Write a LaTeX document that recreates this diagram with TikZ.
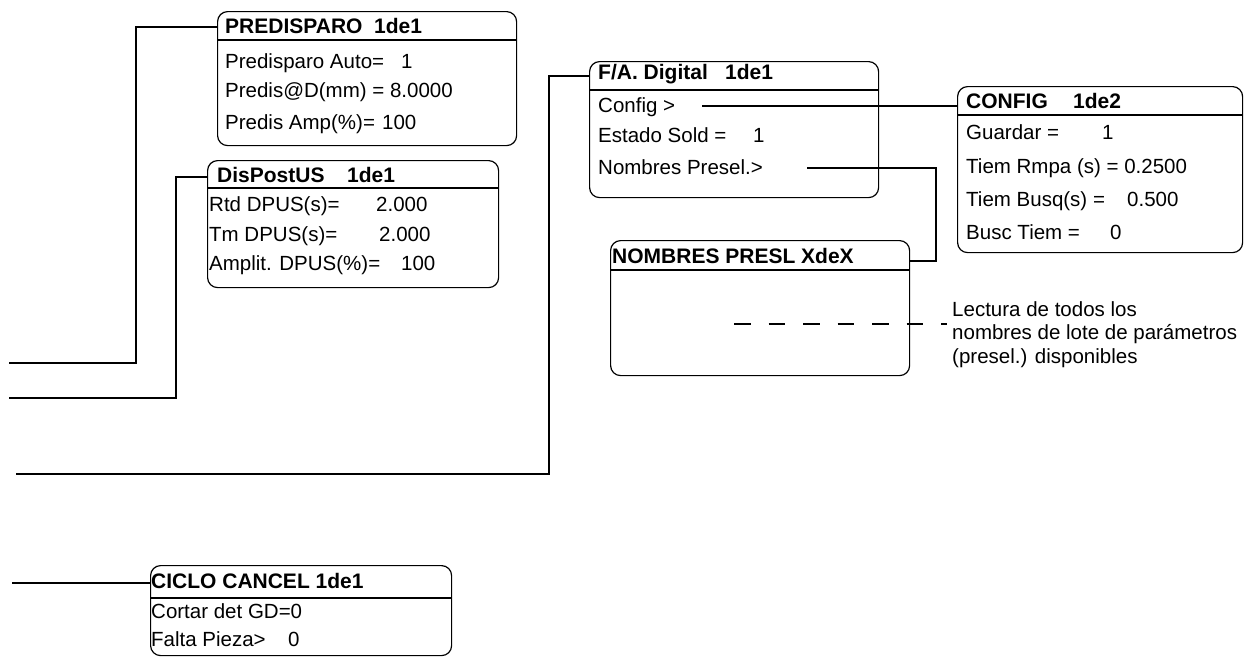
\documentclass[tikz,border=0pt]{standalone}
\usepackage{fontspec}
\setmainfont{Liberation Sans}
\usetikzlibrary{calc}
\newcommand{\rowtxt}[3]{\makebox[#1pt][l]{#2}#3}
\begin{document}
\begin{tikzpicture}[x=1pt,y=-1pt,
  panel/.style={draw, line width=1.2pt, rounded corners=10pt, inner sep=0pt, anchor=north west},
  hdr/.style={line width=2.2pt},
  conn/.style={line width=2.8pt},
  txt/.style={anchor=base west, inner sep=0pt, font=\fontsize{20.5}{23.5}\selectfont},
  ttl/.style={txt, font=\fontsize{21}{24}\selectfont\bfseries},
  note/.style={anchor=base west, inner sep=0pt, align=left, font=\fontsize{20.5}{23.5}\selectfont}]
\useasboundingbox (0,0) rectangle (1244,656);

% ---- PREDISPARO
\node[panel, minimum width=299pt, minimum height=134pt] (pre) at (217,11) {};
\draw[hdr] (217,40) -- (516,40);
\node[ttl] (preT) at (225,33) {\rowtxt{149}{PREDISPARO}{1de1}};
\node[txt] (pre1) at (225,68) {\rowtxt{176}{Predisparo Auto=}{1}};
\node[txt] (pre2) at (225,97) {Predis@D(mm) = 8.0000};
\node[txt] (pre3) at (225,129) {\rowtxt{157}{Predis Amp(\%)=}{100}};

% ---- DisPostUS
\node[panel, minimum width=291pt, minimum height=127pt] (dps) at (207,160) {};
\draw[hdr] (207,188) -- (498,188);
\node[ttl] (dpsT) at (217,182) {\rowtxt{130}{DisPostUS}{1de1}};
\node[txt] (dps1) at (209,211) {\rowtxt{167}{Rtd DPUS(s)=}{2.000}};
\node[txt] (dps2) at (209,241) {\rowtxt{170}{Tm DPUS(s)=}{2.000}};
\node[txt] (dps3) at (209,270) {\rowtxt{192}{Amplit. DPUS(\%)=}{100}};

% ---- F/A. Digital
\node[panel, minimum width=289pt, minimum height=136pt] (fad) at (589,61) {};
\draw[hdr] (589,90) -- (878,90);
\node[ttl] (fadT) at (598,79) {\rowtxt{127}{F/A. Digital}{1de1}};
\node[txt] (fad1) at (598,112) {Config >};
\node[txt] (fad2) at (598,142) {\rowtxt{155}{Estado Sold =}{1}};
\node[txt] (fad3) at (598,174) {Nombres Presel.>};

% ---- CONFIG
\node[panel, minimum width=285pt, minimum height=166pt] (cfg) at (957,86) {};
\draw[hdr] (957,115) -- (1242,115);
\node[ttl] (cfgT) at (966,108) {\rowtxt{107}{CONFIG}{1de2}};
\node[txt] (cfg1) at (966,139) {\rowtxt{136}{Guardar =}{1}};
\node[txt] (cfg2) at (966,173) {Tiem Rmpa (s) = 0.2500};
\node[txt] (cfg3) at (966,206) {\rowtxt{161}{Tiem Busq(s) =}{0.500}};
\node[txt] (cfg4) at (966,239) {\rowtxt{144}{Busc Tiem =}{0}};

% ---- NOMBRES PRESL
\node[panel, minimum width=299pt, minimum height=135pt] (nom) at (610,240) {};
\draw[hdr] (610,270) -- (909,270);
\node[ttl] (nomT) at (612,263) {NOMBRES PRESL XdeX};

% ---- CICLO CANCEL
\node[panel, minimum width=301pt, minimum height=90pt] (cic) at (150,565) {};
\draw[hdr] (150,598) -- (451,598);
\node[ttl] (cicT) at (151,588) {CICLO CANCEL 1de1};
\node[txt] (cic1) at (151,618) {Cortar det GD=0};
\node[txt] (cic2) at (151,646) {\rowtxt{137}{Falta Pieza>}{0}};

% ---- note (base anchor = baseline of last line)
\node[note] (nt) at (952,363) {Lectura de todos los\\nombres de lote de par\'ametros\\(presel.) disponibles};

% ---- connectors
\coordinate (preS) at (9,363);
\coordinate (dpsS) at (9,398);
\coordinate (fadS) at (16,474);
\coordinate (cicS) at (12,583);
\coordinate (preIn) at ($(pre.north west)+(0,16)$);
\coordinate (dpsIn) at ($(dps.north west)+(0,17)$);
\coordinate (fadIn) at ($(fad.north west)+(0,15)$);
\coordinate (cicIn) at ($(cic.north west)+(0,18)$);
\coordinate (cfgIn) at ($(cfg.north west)+(0,20)$);
\coordinate (nomIn) at ($(nom.north east)+(0,21)$);
\coordinate (cfgOut) at (702,106);
\coordinate (nomOut) at (807,168);
\coordinate (dashS) at (734,324);
\coordinate (dashE) at (947,324);

\draw[conn] (preS) -| (136,363) |- (preIn);
\draw[conn] (dpsS) -| (176,398) |- (dpsIn);
\draw[conn] (fadS) -| (549,474) |- (fadIn);
\draw[conn] (cicS) -- (cicIn);
\draw[conn] (cfgOut) -- (cfgIn);
\draw[conn] (nomOut) -| (936,200) |- (nomIn);
\draw[line width=2.2pt, dash pattern=on 16.5pt off 18pt] (dashS) -- (dashE);
\end{tikzpicture}
\end{document}
